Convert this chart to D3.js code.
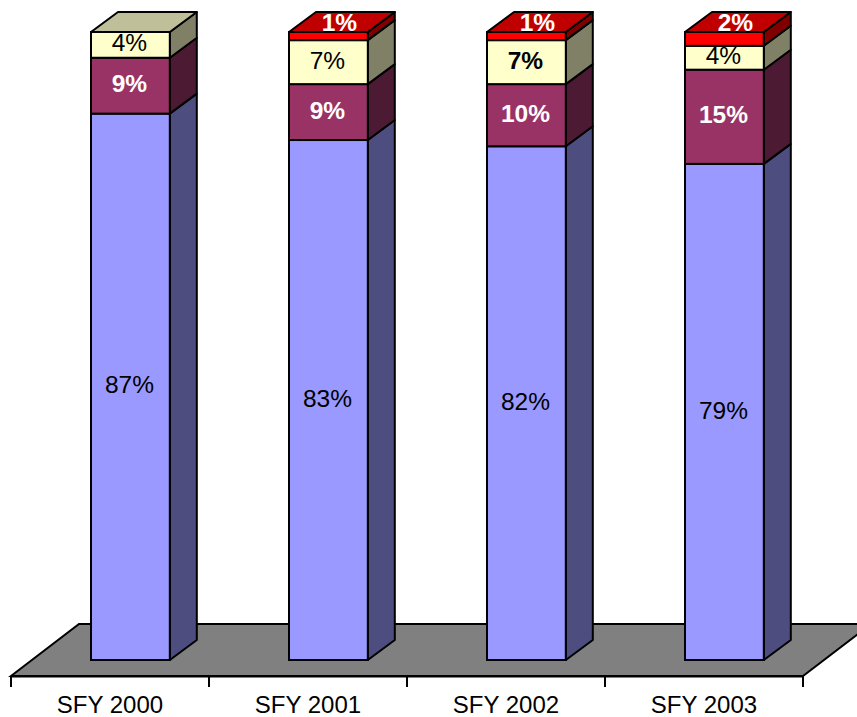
<!DOCTYPE html>
<html>
<head>
<meta charset="utf-8">
<title>SFY stacked bars</title>
<script src="https://cdn.jsdelivr.net/npm/d3@7"></script>
<style>
  html, body { margin: 0; padding: 0; background: #fff; overflow: hidden; }
  text { font-family: "Liberation Sans", Arial, sans-serif; }
</style>
</head>
<body>
<div id="chart"></div>
<script>
// data
const years = ["SFY 2000", "SFY 2001", "SFY 2002", "SFY 2003"];
const blue = [87.0, 82.8, 81.8, 79.0];
const plum = [8.9, 8.9, 9.9, 15.0];
const cream = [4.1, 7.0, 7.0, 3.8];
const red = [0, 1.3, 1.3, 2.2];

// colors: front, side, top
const seriesList = [
    { values: blue, front: "#9999FF", side: "#4D4D80", top: "#7A7ACC", color: "#000", bold: [] },
    { values: plum, front: "#993366", side: "#4D1A33", top: "#7A2952", color: "#fff", bold: years },
    { values: cream, front: "#FFFFCC", side: "#808066", top: "#BFBF99", color: "#000", bold: ["SFY 2002"] },
    { values: red, front: "#FF0000", side: "#800000", top: "#C00000", color: "#fff", bold: years }
];

const svg_w = 857;
const svg_h = 717;

// depth of the fake 3d
const depthX = 27;
const depthY = 20;
const floorX = 68;
const floorY = 52;
const barOffset = 80;
const fontSize = 24;
const labelSize = 24.5;

const xScale = d3.scaleBand().domain(years).range([11, 803]);
const yScale = d3.scaleLinear().domain([0, 100]).range([660, 32]);
const barW = xScale.bandwidth() * 0.398;

const svg = d3.select("#chart")
    .append("svg")
    .attr("width", svg_w)
    .attr("height", svg_h)
    .style("display", "block");

// floor
const floorBottom = 676;
svg.append("path")
    .attr("d", d3.line()([
        [11, floorBottom],
        [11 + floorX, floorBottom - floorY],
        [803 + floorX, floorBottom - floorY],
        [803, floorBottom]
    ]) + "Z")
    .attr("fill", "#808080")
    .attr("stroke", "#000")
    .attr("stroke-width", 2);

// x axis, labels sit in the middle of each band
const xAxis = d3.axisBottom(xScale).tickSize(0).tickPadding(20);
const axisG = svg.append("g")
    .attr("transform", "translate(0," + floorBottom + ")")
    .call(xAxis);
axisG.select(".domain").attr("stroke", "#000").attr("stroke-width", 2);
axisG.selectAll("text")
    .attr("font-size", fontSize)
    .attr("font-family", null)
    .attr("fill", "#000");

// tick marks are on the band edges
const edges = years.map(d => xScale(d)).concat(xScale.range()[1]);
axisG.selectAll("line.edge")
    .data(edges)
    .enter()
    .append("line")
    .attr("class", "edge")
    .attr("x1", d => d)
    .attr("x2", d => d)
    .attr("y1", 0)
    .attr("y2", 11)
    .attr("stroke", "#000")
    .attr("stroke-width", 2);

// bars
years.forEach((year, i) => {
    const g = svg.append("g");
    const x0 = xScale(year) + barOffset;
    const x1 = x0 + barW;
    let base = 0;
    let topSeries = null;

    seriesList.forEach(s => {
        const v = s.values[i];
        if (v === 0) return;
        const y0 = yScale(base);
        const y1 = yScale(base + v);

        // side face
        g.append("path")
            .attr("d", d3.line()([[x1, y0], [x1 + depthX, y0 - depthY], [x1 + depthX, y1 - depthY], [x1, y1]]) + "Z")
            .attr("fill", s.side)
            .attr("stroke", "#000")
            .attr("stroke-width", 2)
            .attr("stroke-linejoin", "round");

        // front face
        g.append("rect")
            .attr("x", x0)
            .attr("y", y1)
            .attr("width", barW)
            .attr("height", y0 - y1)
            .attr("fill", s.front)
            .attr("stroke", "#000")
            .attr("stroke-width", 2);

        base += v;
        topSeries = s;
    });

    // top face takes the color of the last segment
    const yTop = yScale(base);
    g.append("path")
        .attr("d", d3.line()([[x0, yTop], [x0 + depthX, yTop - depthY], [x1 + depthX, yTop - depthY], [x1, yTop]]) + "Z")
        .attr("fill", topSeries.top)
        .attr("stroke", "#000")
        .attr("stroke-width", 2)
        .attr("stroke-linejoin", "round");

    // labels
    base = 0;
    seriesList.forEach(s => {
        const v = s.values[i];
        if (v === 0) return;
        const yMid = yScale(base + v / 2);
        // red is too thin, its label goes on the top face
        const isRed = s === seriesList[3];
        g.append("text")
            .attr("x", (x0 + x1) / 2 + (isRed ? 11 : -1))
            .attr("y", isRed ? yTop - depthY / 2 : yMid - 2)
            .attr("dy", "0.35em")
            .attr("text-anchor", "middle")
            .attr("font-size", labelSize)
            .attr("font-weight", s.bold.includes(year) ? "bold" : "normal")
            .attr("fill", s.color)
            .text(Math.round(v) + "%");
        base += v;
    });
});
</script>
</body>
</html>
